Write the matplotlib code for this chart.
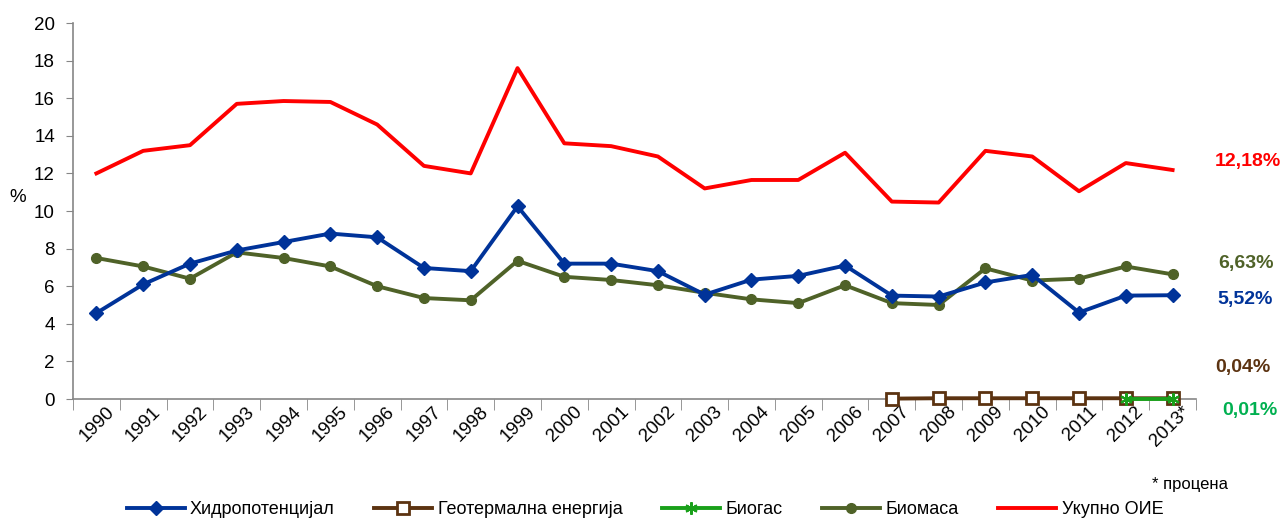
import numpy as np
import matplotlib
matplotlib.use("Agg")
import matplotlib.pyplot as plt
from matplotlib.ticker import FixedLocator
from matplotlib.transforms import ScaledTranslation, blended_transform_factory, IdentityTransform

plt.rcParams['font.family'] = ['Liberation Sans', 'DejaVu Sans']

years = ['1990', '1991', '1992', '1993', '1994', '1995', '1996', '1997', '1998', '1999',
         '2000', '2001', '2002', '2003', '2004', '2005', '2006', '2007', '2008', '2009',
         '2010', '2011', '2012', '2013*']
hydro = [4.57, 6.1, 7.2, 7.9, 8.35, 8.8, 8.6, 6.97, 6.8, 10.25, 7.2, 7.2, 6.8, 5.55,
         6.35, 6.55, 7.1, 5.5, 5.45, 6.2, 6.6, 4.6, 5.5, 5.52]
geo = [np.nan] * 17 + [0.02, 0.04, 0.04, 0.04, 0.04, 0.04, 0.04]
biogas = [np.nan] * 22 + [0.01, 0.01]
biomass = [7.5, 7.05, 6.4, 7.8, 7.5, 7.05, 6.0, 5.37, 5.25, 7.35, 6.5, 6.33, 6.05, 5.65,
           5.3, 5.1, 6.05, 5.1, 5.0, 6.95, 6.3, 6.4, 7.05, 6.63]
total = [12.0, 13.2, 13.5, 15.7, 15.85, 15.8, 14.6, 12.4, 12.0, 17.6, 13.6, 13.45, 12.9,
         11.2, 11.65, 11.65, 13.1, 10.5, 10.45, 13.2, 12.9, 11.05, 12.55, 12.18]
names = ['Хидропотенцијал', 'Геотермална енергија', 'Биогас', 'Биомаса', 'Укупно ОИЕ']
end_labels = ['5,52%', '0,04%', '0,01%', '6,63%', '12,18%']

c_hydro = '#003399'
c_geo = '#5C3311'
c_biogas = '#19A01A'
c_biomass = '#4F6228'
c_total = '#FF0000'

fig = plt.figure(figsize=(12.83, 5.2), dpi=100)
ax = fig.add_axes([73/1283, 121/520, (1196-73)/1283, (399-23)/520])
x = np.arange(len(years))

ax.plot(x, hydro, color=c_hydro, lw=2.8, marker='D', ms=7, mfc=c_hydro, mec=c_hydro,
        label=names[0], zorder=4, clip_on=False)
ax.plot(x, geo, color=c_geo, lw=2.8, marker='s', ms=9, mfc='white', mec=c_geo, mew=2,
        label=names[1], zorder=5, clip_on=False)
ax.plot(x, biogas, color=c_biogas, lw=2.8, marker=(6, 2, 0), ms=9, mec=c_biogas, mew=1.5,
        label=names[2], zorder=6, clip_on=False)
ax.plot(x, biomass, color=c_biomass, lw=2.8, marker='o', ms=7, mfc=c_biomass, mec=c_biomass,
        label=names[3], zorder=3, clip_on=False)
ax.plot(x, total, color=c_total, lw=2.8, label=names[4], zorder=2, clip_on=False)

ax.set_xlim(-0.5, len(years) - 0.5)
ax.set_ylim(0, 20)
ax.set_yticks(np.arange(0, 21, 2))
ax.tick_params(axis='y', labelsize=13.5, length=5, color='#868686', direction='out', pad=8)
ax.set_xticks(x)
ax.set_xticklabels(years, rotation=45, ha='right', rotation_mode='anchor', fontsize=13.5)
ax.tick_params(axis='x', length=0, pad=3)
ax.xaxis.set_minor_locator(FixedLocator(np.arange(-0.5, len(years), 1)))
ax.tick_params(axis='x', which='minor', length=8, color='#868686', direction='out')
offset = ScaledTranslation(9/100, 0, fig.dpi_scale_trans)
for lab in ax.get_xticklabels():
    lab.set_transform(lab.get_transform() + offset)

for s in ['top', 'right']:
    ax.spines[s].set_visible(False)
for s in ['left', 'bottom']:
    ax.spines[s].set_color('#868686')
    ax.spines[s].set_linewidth(1.2)

fig.text(18/1283, 1 - 197/520, '%', fontsize=13.5, ha='center', va='center')

# end labels: (value index, colour, y-offset in data units, x pixel)
lab_specs = [(0, c_hydro, -0.25, 1245), (1, c_geo, 1.65, 1243), (2, '#00B050', -0.6, 1250),
             (3, c_biomass, 0.6, 1246), (4, c_total, 0.45, 1248)]
last_vals = [hydro[-1], geo[-1], biogas[-1], biomass[-1], total[-1]]
tr = blended_transform_factory(IdentityTransform(), ax.transData)
for idx, col, dy, xp in lab_specs:
    ax.text(xp, last_vals[idx] + dy, end_labels[idx], color=col, fontsize=14, fontweight='bold',
            ha='center', va='center', transform=tr, clip_on=False)

fig.text(1190/1283, 1 - 485/520, '* процена', fontsize=12, ha='center', va='center')

fig.legend(loc='center', bbox_to_anchor=(645/1283, 1 - 510/520), ncol=5, frameon=False,
           fontsize=13, handlelength=3.2, columnspacing=2.2, handletextpad=0.3)

fig.savefig('out.png', dpi=100)
